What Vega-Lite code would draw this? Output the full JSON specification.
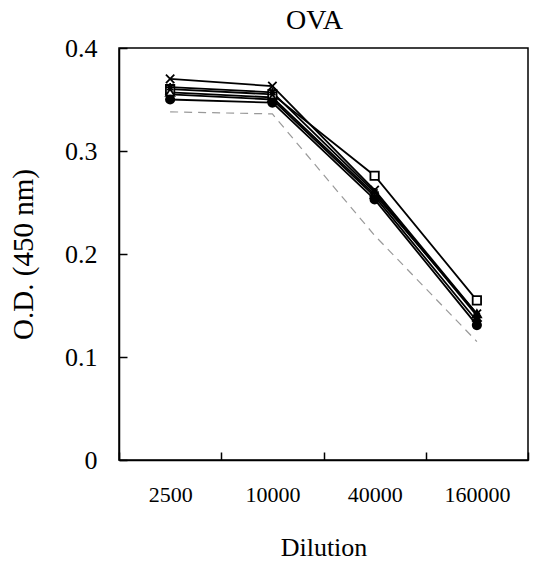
{
  "$schema": "https://vega.github.io/schema/vega-lite/v6.json",
  "width": 409,
  "height": 412,
  "autosize": {"type": "none"},
  "padding": {"left": 119, "top": 48, "right": 10, "bottom": 106},
  "background": "white",
  "title": {"text": "OVA", "font": "Liberation Serif", "fontSize": 28, "fontWeight": "normal", "color": "black", "offset": 0, "dx": -9},
  "config": {
    "view": {"stroke": "black", "strokeWidth": 1.5},
    "axis": {"labelFont": "Liberation Serif", "titleFont": "Liberation Serif", "labelColor": "black", "titleColor": "black", "domainColor": "black", "tickColor": "black", "grid": false, "titleFontWeight": "normal"}
  },
  "data": {"values": [
    {"series": "A", "dilution": "2500", "od": 0.355},
    {"series": "A", "dilution": "10000", "od": 0.350},
    {"series": "A", "dilution": "40000", "od": 0.256},
    {"series": "A", "dilution": "160000", "od": 0.135},
    {"series": "B", "dilution": "2500", "od": 0.360},
    {"series": "B", "dilution": "10000", "od": 0.355},
    {"series": "B", "dilution": "40000", "od": 0.276},
    {"series": "B", "dilution": "160000", "od": 0.155},
    {"series": "C", "dilution": "2500", "od": 0.357},
    {"series": "C", "dilution": "10000", "od": 0.352},
    {"series": "C", "dilution": "40000", "od": 0.258},
    {"series": "C", "dilution": "160000", "od": 0.142},
    {"series": "D", "dilution": "2500", "od": 0.370},
    {"series": "D", "dilution": "10000", "od": 0.363},
    {"series": "D", "dilution": "40000", "od": 0.262},
    {"series": "D", "dilution": "160000", "od": 0.142},
    {"series": "E", "dilution": "2500", "od": 0.362},
    {"series": "E", "dilution": "10000", "od": 0.357},
    {"series": "E", "dilution": "40000", "od": 0.260},
    {"series": "E", "dilution": "160000", "od": 0.140},
    {"series": "F", "dilution": "2500", "od": 0.350},
    {"series": "F", "dilution": "10000", "od": 0.347},
    {"series": "F", "dilution": "40000", "od": 0.253},
    {"series": "F", "dilution": "160000", "od": 0.131},
    {"series": "G", "dilution": "2500", "od": 0.338},
    {"series": "G", "dilution": "10000", "od": 0.336},
    {"series": "G", "dilution": "40000", "od": 0.218},
    {"series": "G", "dilution": "160000", "od": 0.115}
  ]},
  "encoding": {
    "x": {"field": "dilution", "type": "ordinal", "sort": ["2500", "10000", "40000", "160000"],
      "scale": {"paddingInner": 0, "paddingOuter": 0},
      "axis": {"title": "Dilution", "labelAngle": 0, "labelFontSize": 22, "titleFontSize": 26, "tickBand": "extent", "tickSize": -8, "labelPadding": 32, "titlePadding": 29, "domainWidth": 1.5, "tickWidth": 1.5}},
    "y": {"field": "od", "type": "quantitative",
      "scale": {"domain": [0, 0.4], "nice": false, "zero": true},
      "axis": {"title": "O.D. (450 nm)", "values": [0, 0.1, 0.2, 0.3, 0.4], "format": ".1~f", "labelFontSize": 26, "titleFontSize": 29, "tickSize": -8, "labelPadding": 30, "titlePadding": 26, "domainWidth": 1.5, "tickWidth": 1.5}}
  },
  "layer": [
    {
      "transform": [{"filter": "datum.series === 'G'"}],
      "mark": {"type": "line", "color": "#999999", "strokeWidth": 1.2, "strokeDash": [8, 6]}
    },
    {
      "transform": [{"filter": "datum.series !== 'G'"}],
      "mark": {"type": "line", "color": "black", "strokeWidth": 1.8},
      "encoding": {"detail": {"field": "series"}}
    },
    {
      "transform": [{"filter": "datum.series !== 'G'"}],
      "mark": {"type": "point", "opacity": 1, "strokeWidth": 1.8, "size": 70},
      "encoding": {
        "shape": {"field": "series", "type": "nominal", "legend": null,
          "scale": {"domain": ["A", "B", "C", "D", "E", "F"], "range": ["diamond", "square", "triangle-up", "M-1,-1L1,1M-1,1L1,-1", "M-1,0L1,0M0,-1L0,1M-0.7,-0.7L0.7,0.7M-0.7,0.7L0.7,-0.7", "circle"]}},
        "fill": {"field": "series", "type": "nominal", "legend": null,
          "scale": {"domain": ["A", "B", "C", "D", "E", "F"], "range": ["black", "white", "white", "black", "black", "black"]}},
        "stroke": {"value": "black"}
      }
    }
  ]
}
